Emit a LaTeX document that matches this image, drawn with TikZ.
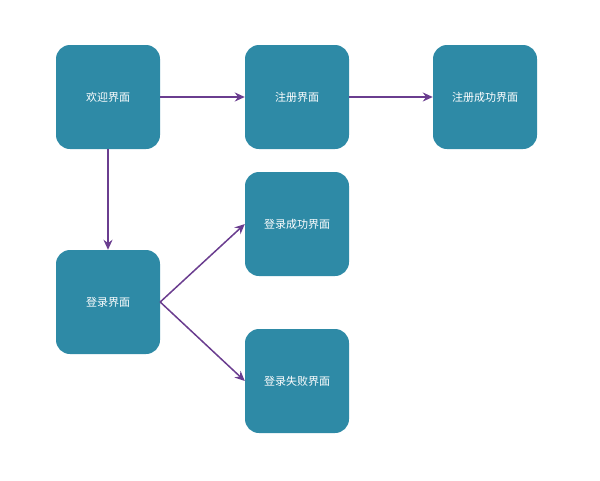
\documentclass[tikz,border=0pt]{standalone}
\usepackage{fontspec}
\setmainfont{Noto Sans CJK SC}
\usetikzlibrary{arrows.meta}
\definecolor{boxteal}{HTML}{2E8AA6}
\definecolor{arrowpurple}{HTML}{6A3D8F}
\tikzset{
  screen/.style={rectangle, rounded corners=14pt, fill=boxteal, minimum width=104pt, minimum height=104pt, text=white, font=\fontsize{11}{13}\selectfont},
  flow/.style={draw=arrowpurple, line width=1.5pt, -{Stealth[length=10pt,width=9pt]}}
}
\begin{document}
\begin{tikzpicture}[x=1pt,y=-1pt]
\useasboundingbox (0,0) rectangle (600,480);
\node[screen] (welcome) at (108,97) {欢迎界面};
\node[screen] (reg) at (297,97) {注册界面};
\node[screen] (regok) at (485,97) {注册成功界面};
\node[screen] (loginok) at (297,224) {登录成功界面};
\node[screen] (login) at (108,302) {登录界面};
\node[screen] (loginfail) at (297,381) {登录失败界面};
\draw[flow] (welcome.east) -- (reg.west);
\draw[flow] (reg.east) -- (regok.west);
\draw[flow] (welcome.south) -- (login.north);
\draw[flow] (login.east) -- (loginok.west);
\draw[flow] (login.east) -- (loginfail.west);
\end{tikzpicture}
\end{document}
